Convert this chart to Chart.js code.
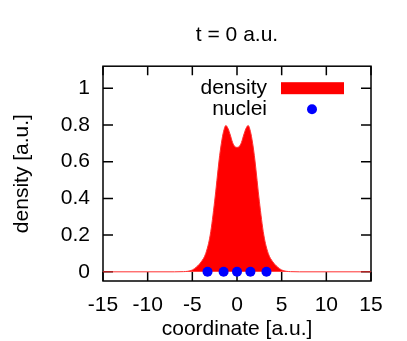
<!DOCTYPE html>
<html>
<head>
<meta charset="utf-8">
<script src="https://cdn.jsdelivr.net/npm/chart.js@4/dist/chart.umd.min.js"></script>
<style>
  body { margin: 0; background: #fff; }
</style>
</head>
<body>
<canvas id="myChart" width="407" height="341"></canvas>
<script>
let xTicks = [-15, -10, -5, 0, 5, 10, 15];
let yTicks = [0, 0.2, 0.4, 0.6, 0.8, 1];

// density (symmetric about 0)
let densityX = [-15, -7, -6, -5.5, -5, -4.5, -4, -3.5, -3, -2.5, -2, -1.75, -1.5, -1.25, -1, -0.75, -0.5, -0.25,
  0, 0.25, 0.5, 0.75, 1, 1.25, 1.5, 1.75, 2, 2.5, 3, 3.5, 4, 4.5, 5, 5.5, 6, 7, 15];
let densityY = [0, 0, 0.001, 0.003, 0.01, 0.028, 0.055, 0.1, 0.2, 0.385, 0.61, 0.7, 0.765, 0.797, 0.78, 0.745, 0.705, 0.683,
  0.678, 0.683, 0.705, 0.745, 0.78, 0.797, 0.765, 0.7, 0.61, 0.385, 0.2, 0.1, 0.055, 0.028, 0.01, 0.003, 0.001, 0, 0];

let nucleiX = [-3.3, -1.5, 0, 1.5, 3.3];
let nucleiY = [0, 0, 0, 0, 0];

Chart.defaults.font.family = '"Liberation Sans", Arial, sans-serif';
Chart.defaults.font.size = 21;
Chart.defaults.color = "#000";

function toPoints(xs, ys) {
  return xs.map((x, i) => ({ x: x, y: ys[i] }));
}

// gnuplot style frame and inward ticks, drawn under the data
const framePlugin = {
  id: "framePlugin",
  beforeDatasetsDraw(chart) {
    const ctx = chart.ctx;
    const a = chart.chartArea;
    const xs = chart.scales.x;
    const ys = chart.scales.y;
    ctx.save();
    ctx.strokeStyle = "#000";
    ctx.lineWidth = 1.5;
    ctx.beginPath();
    xTicks.forEach((v) => {
      let px = xs.getPixelForValue(v);
      ctx.moveTo(px, a.bottom);
      ctx.lineTo(px, a.bottom - 9);
      ctx.moveTo(px, a.top);
      ctx.lineTo(px, a.top + 9);
    });
    yTicks.forEach((v) => {
      let py = ys.getPixelForValue(v);
      ctx.moveTo(a.left, py);
      ctx.lineTo(a.left + 10, py);
      ctx.moveTo(a.right, py);
      ctx.lineTo(a.right - 10, py);
    });
    ctx.stroke();
    ctx.strokeRect(a.left, a.top, a.right - a.left, a.bottom - a.top);
    ctx.restore();
  },
  afterDraw(chart) {
    // legend inside the frame, text left of the key
    const ctx = chart.ctx;
    const a = chart.chartArea;
    const ds = chart.data.datasets;
    const tx = a.right - 104;
    const y1 = a.top + 22;
    const y2 = a.top + 43;
    ctx.save();
    ctx.font = Chart.defaults.font.size + "px " + Chart.defaults.font.family;
    ctx.fillStyle = "#000";
    ctx.textAlign = "right";
    ctx.textBaseline = "middle";
    ctx.fillText(ds[1].label, tx, y1);
    ctx.fillText(ds[0].label, tx, y2);
    ctx.fillStyle = ds[1].backgroundColor;
    ctx.fillRect(a.right - 90, y1 - 6, 63, 12);
    ctx.fillStyle = ds[0].backgroundColor;
    ctx.beginPath();
    ctx.arc(a.right - 59, y2, 5, 0, Math.PI * 2);
    ctx.fill();
    ctx.restore();
  },
};

let myChart = document.getElementById("myChart").getContext("2d");

var chart = new Chart(myChart, {
  type: "scatter",
  data: {
    datasets: [
      {
        label: "nuclei",
        data: toPoints(nucleiX, nucleiY),
        backgroundColor: "#0000ff",
        borderWidth: 0,
        pointRadius: 5,
        order: 0,
      },
      {
        label: "density",
        data: toPoints(densityX, densityY),
        showLine: true,
        fill: "origin",
        backgroundColor: "#ff0000",
        borderColor: "#ff3030",
        borderWidth: 1,
        pointRadius: 0,
        cubicInterpolationMode: "monotone",
        order: 1,
      },
    ],
  },
  options: {
    responsive: false,
    animation: false,
    layout: {
      padding: { left: 0, right: 36, top: 0, bottom: 0 },
    },
    plugins: {
      legend: { display: false },
      tooltip: { enabled: false },
      title: {
        display: true,
        text: "t = 0 a.u.",
        fullSize: false,
        font: { size: 21, weight: "normal", lineHeight: 1.2 },
        padding: { top: 23, bottom: 18 },
      },
    },
    scales: {
      x: {
        type: "linear",
        min: -15,
        max: 15,
        afterBuildTicks: (s) => {
          s.ticks = xTicks.map((v) => ({ value: v }));
        },
        afterFit: (s) => {
          s.height = 60;
        },
        ticks: {
          padding: 12,
          maxRotation: 0,
          callback: (v) => String(v),
        },
        grid: { display: false, drawTicks: false },
        border: { display: false },
        title: {
          display: true,
          text: "coordinate [a.u.]",
          font: { size: 21, lineHeight: 1 },
          padding: { top: 1, bottom: 1 },
        },
      },
      y: {
        type: "linear",
        min: -0.05,
        max: 1.12,
        afterBuildTicks: (s) => {
          s.ticks = yTicks.map((v) => ({ value: v }));
        },
        afterFit: (s) => {
          s.width = 103;
        },
        ticks: {
          padding: 13,
          callback: (v) => String(v),
        },
        grid: { display: false, drawTicks: false },
        border: { display: false },
        title: {
          display: true,
          text: "density [a.u.]",
          font: { size: 21, lineHeight: 1 },
          padding: { top: 12, bottom: 12 },
        },
      },
    },
  },
  plugins: [framePlugin],
});
</script>
</body>
</html>
